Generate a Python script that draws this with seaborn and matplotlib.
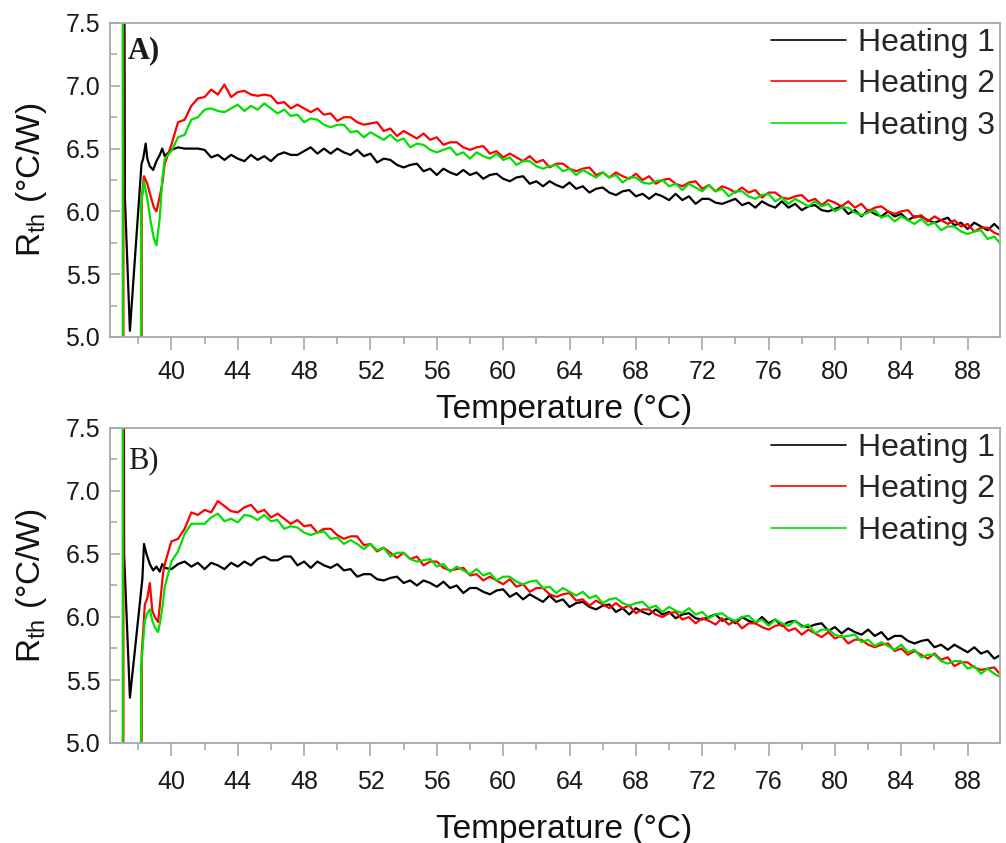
import numpy as np
import pandas as pd
import matplotlib
matplotlib.use("Agg")
import matplotlib.pyplot as plt
import seaborn as sns
from matplotlib.ticker import MultipleLocator

# ---------------- data ----------------
series_names = ["Heating 1", "Heating 2", "Heating 3"]
series_colors = ["#000000", "#ff0000", "#00e000"]

# regular temperature sampling of the main part of each curve (°C)
temp_grid = np.round(np.arange(39.6, 90.01, 0.4), 2)

# start-up transients (temperatures and values)
leadA_black_t = [37.09, 37.20, 37.50, 38.20, 38.30, 38.45, 38.55, 38.70, 38.90, 39.10, 39.30, 39.45]
leadA_black_v = [12.0, 6.10, 5.05, 6.38, 6.42, 6.54, 6.42, 6.36, 6.33, 6.40, 6.45, 6.50]
leadA_red_t = [37.105, 37.11, 38.19, 38.21, 38.35, 38.55, 38.75, 38.95, 39.10, 39.30, 39.45]
leadA_red_v = [12.0, -3.0, -3.0, 6.10, 6.28, 6.22, 6.12, 6.03, 6.00, 6.12, 6.22]
leadA_green_t = [37.065, 37.07, 38.15, 38.17, 38.35, 38.55, 38.75, 38.95, 39.10, 39.30, 39.45]
leadA_green_v = [12.0, -3.0, -3.0, 6.05, 6.24, 6.10, 5.92, 5.78, 5.73, 5.95, 6.25]

leadB_black_t = [37.09, 37.15, 37.50, 38.25, 38.35, 38.50, 38.70, 38.90, 39.10, 39.30, 39.45]
leadB_black_v = [12.0, 6.50, 5.36, 6.30, 6.58, 6.50, 6.42, 6.37, 6.40, 6.36, 6.42]
leadB_red_t = [37.105, 37.11, 38.19, 38.21, 38.40, 38.55, 38.70, 38.85, 39.00, 39.20, 39.35, 39.50]
leadB_red_v = [12.0, -3.0, -3.0, 5.70, 6.10, 6.15, 6.27, 6.05, 6.00, 5.96, 6.15, 6.35]
leadB_green_t = [37.065, 37.07, 38.15, 38.17, 38.40, 38.55, 38.70, 38.85, 39.00, 39.20, 39.35, 39.50]
leadB_green_v = [12.0, -3.0, -3.0, 5.60, 5.97, 6.03, 6.06, 5.97, 5.92, 5.88, 5.98, 6.12]

# main curves (R_th in °C/W at temp_grid)
heatA_1 = [6.44,6.49,6.51,6.50,6.50,6.50,6.49,6.43,6.45,6.41,6.45,6.42,6.40,6.45,6.41,6.44,
           6.40,6.45,6.47,6.45,6.45,6.48,6.51,6.46,6.50,6.46,6.50,6.47,6.45,6.49,6.44,6.46,
           6.39,6.42,6.41,6.37,6.35,6.37,6.38,6.32,6.34,6.29,6.34,6.31,6.29,6.33,6.29,6.31,
           6.26,6.29,6.30,6.26,6.24,6.27,6.28,6.22,6.24,6.20,6.24,6.21,6.19,6.23,6.18,6.20,
           6.15,6.18,6.19,6.15,6.13,6.16,6.17,6.12,6.14,6.10,6.14,6.12,6.09,6.14,6.09,6.12,
           6.06,6.10,6.10,6.07,6.06,6.08,6.10,6.05,6.07,6.03,6.08,6.05,6.03,6.08,6.03,6.06,
           6.01,6.04,6.05,6.01,6.00,6.02,6.04,5.98,6.01,5.96,6.01,5.98,5.96,6.00,5.96,5.98,
           5.93,5.96,5.96,5.93,5.91,5.93,5.95,5.89,5.91,5.86,5.91,5.88,5.85,5.90,5.85]
heatA_2 = [6.38,6.53,6.71,6.73,6.84,6.90,6.91,6.97,6.93,7.01,6.91,6.95,6.96,6.93,6.92,6.93,
           6.92,6.86,6.87,6.82,6.85,6.82,6.79,6.82,6.77,6.78,6.72,6.75,6.75,6.71,6.69,6.70,
           6.71,6.64,6.66,6.60,6.64,6.61,6.58,6.62,6.57,6.59,6.53,6.55,6.55,6.51,6.49,6.51,
           6.52,6.46,6.48,6.43,6.46,6.43,6.40,6.44,6.39,6.41,6.35,6.38,6.38,6.34,6.32,6.34,
           6.35,6.29,6.31,6.27,6.31,6.28,6.26,6.30,6.25,6.28,6.22,6.25,6.26,6.22,6.20,6.23,
           6.24,6.18,6.21,6.16,6.20,6.18,6.15,6.19,6.15,6.17,6.11,6.15,6.15,6.11,6.10,6.12,
           6.13,6.08,6.10,6.05,6.09,6.07,6.04,6.08,6.03,6.06,6.00,6.03,6.04,6.00,5.98,6.00,
           6.01,5.95,5.97,5.92,5.96,5.93,5.90,5.93,5.88,5.90,5.84,5.87,5.87,5.83,5.81]
heatA_3 = [6.42,6.48,6.59,6.61,6.73,6.75,6.81,6.82,6.80,6.79,6.82,6.85,6.80,6.84,6.81,6.86,
           6.82,6.78,6.81,6.76,6.77,6.71,6.74,6.73,6.69,6.67,6.69,6.69,6.63,6.64,6.59,6.63,
           6.60,6.57,6.61,6.56,6.58,6.51,6.54,6.53,6.49,6.47,6.49,6.51,6.45,6.47,6.42,6.47,
           6.44,6.42,6.46,6.41,6.43,6.37,6.40,6.40,6.36,6.34,6.36,6.37,6.32,6.34,6.29,6.33,
           6.30,6.27,6.31,6.27,6.29,6.23,6.27,6.27,6.23,6.22,6.24,6.25,6.20,6.22,6.17,6.22,
           6.19,6.16,6.21,6.16,6.18,6.12,6.16,6.16,6.12,6.10,6.13,6.14,6.08,6.11,6.06,6.10,
           6.07,6.04,6.08,6.04,6.06,6.00,6.03,6.03,5.99,5.97,5.99,6.01,5.95,5.97,5.92,5.96,
           5.93,5.90,5.94,5.89,5.91,5.85,5.88,5.88,5.84,5.82,5.84,5.85,5.78,5.80,5.74]

heatB_1 = [6.39,6.38,6.42,6.44,6.40,6.43,6.38,6.43,6.41,6.38,6.43,6.40,6.44,6.41,6.46,6.48,
           6.45,6.45,6.48,6.48,6.41,6.44,6.39,6.44,6.41,6.39,6.42,6.37,6.38,6.32,6.34,6.34,
           6.30,6.29,6.31,6.32,6.27,6.29,6.25,6.29,6.27,6.24,6.28,6.23,6.25,6.19,6.23,6.23,
           6.20,6.18,6.21,6.22,6.16,6.19,6.14,6.18,6.15,6.12,6.17,6.12,6.14,6.08,6.11,6.12,
           6.08,6.06,6.09,6.10,6.04,6.07,6.02,6.07,6.04,6.02,6.06,6.02,6.04,5.99,6.02,6.03,
           5.99,5.98,6.00,6.02,5.97,5.99,5.95,6.00,5.97,5.95,6.00,5.95,5.98,5.93,5.96,5.97,
           5.93,5.92,5.94,5.95,5.89,5.92,5.87,5.91,5.88,5.86,5.90,5.85,5.88,5.82,5.85,5.85,
           5.81,5.79,5.81,5.82,5.76,5.78,5.74,5.78,5.75,5.72,5.76,5.71,5.73,5.67,5.70]
heatB_2 = [6.42,6.60,6.62,6.70,6.83,6.81,6.85,6.83,6.92,6.88,6.84,6.83,6.87,6.89,6.83,6.85,
           6.79,6.82,6.78,6.74,6.77,6.72,6.73,6.67,6.70,6.70,6.65,6.62,6.64,6.64,6.57,6.58,
           6.52,6.55,6.51,6.47,6.51,6.46,6.48,6.41,6.44,6.44,6.39,6.37,6.38,6.39,6.33,6.34,
           6.29,6.32,6.29,6.26,6.30,6.24,6.26,6.20,6.23,6.23,6.18,6.16,6.18,6.19,6.13,6.14,
           6.09,6.13,6.10,6.07,6.11,6.07,6.09,6.03,6.06,6.06,6.02,6.00,6.03,6.04,5.98,6.00,
           5.95,5.99,5.97,5.94,5.99,5.94,5.97,5.91,5.95,5.95,5.92,5.90,5.93,5.94,5.89,5.91,
           5.86,5.90,5.87,5.84,5.88,5.83,5.85,5.79,5.82,5.82,5.78,5.76,5.78,5.79,5.73,5.75,
           5.70,5.73,5.70,5.67,5.71,5.66,5.68,5.61,5.64,5.64,5.60,5.58,5.59,5.60,5.54]
heatB_3 = [6.24,6.44,6.52,6.66,6.74,6.74,6.74,6.79,6.82,6.76,6.78,6.75,6.81,6.80,6.77,6.81,
           6.76,6.77,6.70,6.72,6.71,6.67,6.65,6.67,6.68,6.62,6.63,6.58,6.61,6.58,6.54,6.58,
           6.53,6.55,6.48,6.51,6.51,6.46,6.44,6.45,6.46,6.40,6.42,6.36,6.40,6.37,6.34,6.38,
           6.33,6.35,6.29,6.32,6.32,6.28,6.26,6.28,6.29,6.23,6.24,6.19,6.23,6.20,6.17,6.20,
           6.15,6.17,6.11,6.14,6.15,6.11,6.09,6.11,6.12,6.07,6.09,6.04,6.08,6.05,6.03,6.07,
           6.02,6.04,5.99,6.02,6.03,5.99,5.97,6.00,6.01,5.96,5.98,5.93,5.98,5.95,5.93,5.97,
           5.92,5.94,5.87,5.90,5.90,5.86,5.84,5.85,5.86,5.80,5.82,5.77,5.80,5.77,5.74,5.78,
           5.72,5.74,5.68,5.70,5.70,5.65,5.63,5.65,5.65,5.59,5.61,5.55,5.59,5.55,5.52]

x_ticks_step = 4
y_ticks_step = 0.5


def build_frame(leads, mains):
    rows = []
    for name, (lt, lv), main in zip(series_names, leads, mains):
        t = list(lt) + list(temp_grid)
        v = list(lv) + list(main)
        rows.append(pd.DataFrame({"Temperature": t, "Rth": v, "Series": name}))
    return pd.concat(rows, ignore_index=True)


dfA = build_frame([(leadA_black_t, leadA_black_v), (leadA_red_t, leadA_red_v),
                   (leadA_green_t, leadA_green_v)], [heatA_1, heatA_2, heatA_3])
dfB = build_frame([(leadB_black_t, leadB_black_v), (leadB_red_t, leadB_red_v),
                   (leadB_green_t, leadB_green_v)], [heatB_1, heatB_2, heatB_3])

# ---------------- style ----------------
sns.set_style("ticks")
plt.rcParams["font.family"] = ["Liberation Sans", "DejaVu Sans"]

W, H = 1006, 843
fig = plt.figure(figsize=(W / 100, H / 100), dpi=100)


def px_axes(left, top, right, bottom):
    return fig.add_axes([left / W, 1 - bottom / H, (right - left) / W, (bottom - top) / H])


axA = px_axes(110, 23, 1000, 337)
axB = px_axes(110, 428, 1000, 743)

spine_col = "#a8a8a8"
panels = [(axA, dfA, "A)", "bold", -0.18, 7, 0.889),
          (axB, dfB, "B)", "normal", -0.225, 10, 0.873)]
for ax, df, letter, weight, xlab_y, xpad, letter_y in panels:
    sns.lineplot(data=df, x="Temperature", y="Rth", hue="Series",
                 hue_order=series_names, palette=series_colors,
                 estimator=None, sort=False, lw=1.6, ax=ax)
    ax.set_xlim(36.3, 89.95)
    ax.set_ylim(5.0, 7.5)
    ax.xaxis.set_major_locator(MultipleLocator(x_ticks_step))
    ax.xaxis.set_minor_locator(MultipleLocator(x_ticks_step / 2))
    ax.yaxis.set_major_locator(MultipleLocator(y_ticks_step))
    ax.yaxis.set_minor_locator(MultipleLocator(y_ticks_step / 2))
    for s in ax.spines.values():
        s.set_visible(True)
        s.set_color(spine_col)
        s.set_linewidth(1.3)
    ax.tick_params(axis="x", which="major", direction="out", length=9.5, width=1.2,
                   color=spine_col, labelsize=18, pad=xpad, labelcolor="#1a1a1a")
    ax.tick_params(axis="x", which="minor", direction="out", length=5, width=1.2,
                   color=spine_col)
    ax.tick_params(axis="y", which="major", direction="in", length=7, width=1.2,
                   color=spine_col, labelsize=18, pad=7, labelcolor="#1a1a1a")
    ax.tick_params(axis="y", which="minor", direction="in", length=5, width=1.2,
                   color=spine_col)
    ax.set_xlabel("Temperature (°C)", fontsize=24, color="#111111")
    ax.set_ylabel("R$_{\\mathregular{th}}$ (°C/W)", fontsize=24, color="#111111")
    ax.xaxis.set_label_coords(0.51, xlab_y)
    ax.yaxis.set_label_coords(-0.068, 0.5)

    handles, labels = ax.get_legend_handles_labels()
    leg = ax.legend(handles, labels, loc="upper right", bbox_to_anchor=(1.0, 1.0),
                    frameon=False, fontsize=23, handlelength=2.35, handletextpad=0.37,
                    labelspacing=0.36, borderaxespad=0.0, borderpad=0.15)
    for h in leg.legend_handles:
        h.set_linewidth(1.2)
    ax.text(0.02, letter_y, letter, transform=ax.transAxes, fontsize=22,
            family="Liberation Serif", fontweight=weight, color="#1a1a1a",
            ha="left", va="baseline")

fig.savefig("out.png", dpi=100)
